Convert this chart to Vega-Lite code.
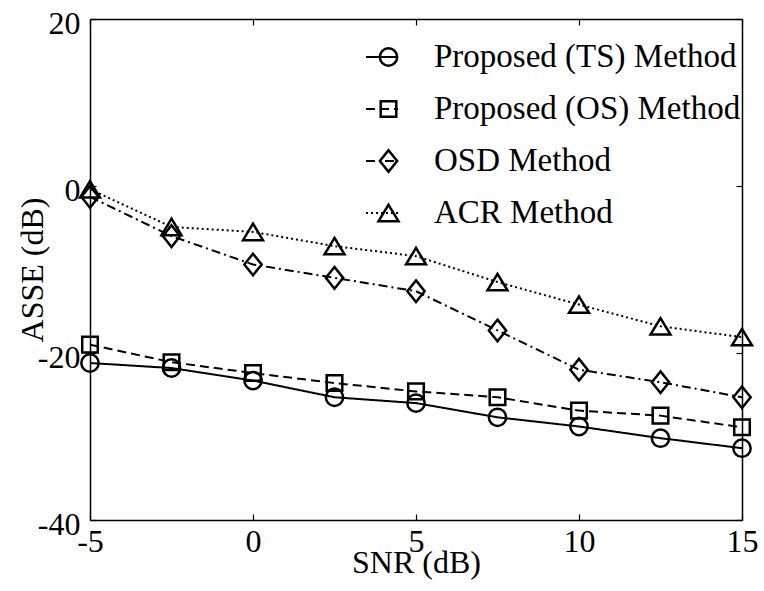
{
  "$schema": "https://vega.github.io/schema/vega-lite/v6.json",
  "autosize": "none",
  "padding": {"left": 90, "top": 19, "right": 22, "bottom": 71},
  "width": 652,
  "height": 501,
  "background": "white",
  "data": {"values": [
    {"snr": -5, "asse": -21.2, "method": "Proposed (TS) Method"},
    {"snr": -2.5, "asse": -21.8, "method": "Proposed (TS) Method"},
    {"snr": 0, "asse": -23.3, "method": "Proposed (TS) Method"},
    {"snr": 2.5, "asse": -25.3, "method": "Proposed (TS) Method"},
    {"snr": 5, "asse": -26.0, "method": "Proposed (TS) Method"},
    {"snr": 7.5, "asse": -27.7, "method": "Proposed (TS) Method"},
    {"snr": 10, "asse": -28.8, "method": "Proposed (TS) Method"},
    {"snr": 12.5, "asse": -30.2, "method": "Proposed (TS) Method"},
    {"snr": 15, "asse": -31.4, "method": "Proposed (TS) Method"},
    {"snr": -5, "asse": -19.0, "method": "Proposed (OS) Method"},
    {"snr": -2.5, "asse": -21.1, "method": "Proposed (OS) Method"},
    {"snr": 0, "asse": -22.4, "method": "Proposed (OS) Method"},
    {"snr": 2.5, "asse": -23.6, "method": "Proposed (OS) Method"},
    {"snr": 5, "asse": -24.6, "method": "Proposed (OS) Method"},
    {"snr": 7.5, "asse": -25.3, "method": "Proposed (OS) Method"},
    {"snr": 10, "asse": -26.9, "method": "Proposed (OS) Method"},
    {"snr": 12.5, "asse": -27.5, "method": "Proposed (OS) Method"},
    {"snr": 15, "asse": -28.9, "method": "Proposed (OS) Method"},
    {"snr": -5, "asse": -1.3, "method": "OSD Method"},
    {"snr": -2.5, "asse": -6.0, "method": "OSD Method"},
    {"snr": 0, "asse": -9.4, "method": "OSD Method"},
    {"snr": 2.5, "asse": -11.0, "method": "OSD Method"},
    {"snr": 5, "asse": -12.6, "method": "OSD Method"},
    {"snr": 7.5, "asse": -17.3, "method": "OSD Method"},
    {"snr": 10, "asse": -22.0, "method": "OSD Method"},
    {"snr": 12.5, "asse": -23.5, "method": "OSD Method"},
    {"snr": 15, "asse": -25.3, "method": "OSD Method"},
    {"snr": -5, "asse": -0.4, "method": "ACR Method"},
    {"snr": -2.5, "asse": -4.9, "method": "ACR Method"},
    {"snr": 0, "asse": -5.5, "method": "ACR Method"},
    {"snr": 2.5, "asse": -7.2, "method": "ACR Method"},
    {"snr": 5, "asse": -8.4, "method": "ACR Method"},
    {"snr": 7.5, "asse": -11.5, "method": "ACR Method"},
    {"snr": 10, "asse": -14.2, "method": "ACR Method"},
    {"snr": 12.5, "asse": -16.8, "method": "ACR Method"},
    {"snr": 15, "asse": -18.1, "method": "ACR Method"}
  ]},
  "resolve": {"axis": {"x": "independent", "y": "independent"}},
  "layer": [
    {
      "mark": {"type": "line", "color": "black", "strokeWidth": 2},
      "encoding": {
        "x": {"field": "snr", "type": "quantitative",
              "scale": {"domain": [-5, 15], "nice": false, "zero": false},
              "axis": {"orient": "bottom", "values": [-5, 0, 5, 10, 15], "title": "SNR (dB)", "labelPadding": 12, "titlePadding": -10, "labelExpr": "'' + datum.value"}},
        "y": {"field": "asse", "type": "quantitative",
              "scale": {"domain": [-40, 20], "nice": false, "zero": false},
              "axis": {"orient": "left", "values": [-40, -20, 0, 20], "title": "ASSE (dB)", "labelPadding": 16, "labelOffset": 4, "titlePadding": -12, "labelExpr": "'' + datum.value"}},
        "strokeDash": {"field": "method", "type": "nominal",
              "sort": ["Proposed (TS) Method", "Proposed (OS) Method", "OSD Method", "ACR Method"],
              "scale": {"range": [[1, 0], [9, 5], [9, 4, 2, 4], [2, 3]]},
              "legend": {"title": null, "orient": "none", "legendX": 275, "legendY": 22, "symbolType": "stroke", "symbolSize": 1024, "symbolStrokeWidth": 2, "symbolStrokeColor": "black", "labelOffset": 35, "clipHeight": 32, "rowPadding": 19, "labelFontSize": 33, "labelFont": "Liberation Serif", "labelColor": "black", "labelLimit": 500, "padding": 0}}
      }
    },
    {
      "mark": {"type": "point", "filled": false, "color": "black", "strokeWidth": 2.5, "size": 300, "opacity": 1},
      "encoding": {
        "x": {"field": "snr", "type": "quantitative",
              "axis": {"orient": "top", "values": [-5, 0, 5, 10, 15], "labels": false, "title": null}},
        "y": {"field": "asse", "type": "quantitative",
              "axis": {"orient": "right", "values": [-40, -20, 0, 20], "labels": false, "title": null}},
        "shape": {"field": "method", "type": "nominal",
              "scale": {"domain": ["Proposed (TS) Method", "Proposed (OS) Method", "OSD Method", "ACR Method"],
                        "range": ["circle", "M-0.9,-0.9L0.9,-0.9L0.9,0.9L-0.9,0.9Z", "M0,-1.25L1,0L0,1.25L-1,0Z", "M0,-0.95L1.15,0.95L-1.15,0.95Z"]},
              "legend": {"title": null, "orient": "none", "legendX": 282, "legendY": 22, "symbolSize": 300, "symbolStrokeWidth": 2.5, "symbolStrokeColor": "black", "symbolFillColor": "transparent", "labelOffset": 35, "clipHeight": 32, "rowPadding": 19, "labelFontSize": 33, "labelFont": "Liberation Serif", "labelColor": "black", "labelExpr": "''", "labelLimit": 500, "padding": 0}}
      }
    }
  ],
  "config": {
    "font": "Liberation Serif",
    "view": {"stroke": null},
    "axis": {
      "grid": false,
      "domainColor": "black",
      "domainWidth": 1.5,
      "tickColor": "black",
      "tickWidth": 1.2,
      "tickSize": -6,
      "labelFont": "Liberation Serif",
      "labelFontSize": 32,
      "labelColor": "black",
      "labelFlush": false,
      "labelOverlap": false,
      "titleFont": "Liberation Serif",
      "titleFontSize": 32,
      "titleFontWeight": "normal",
      "titleColor": "black"
    }
  }
}
